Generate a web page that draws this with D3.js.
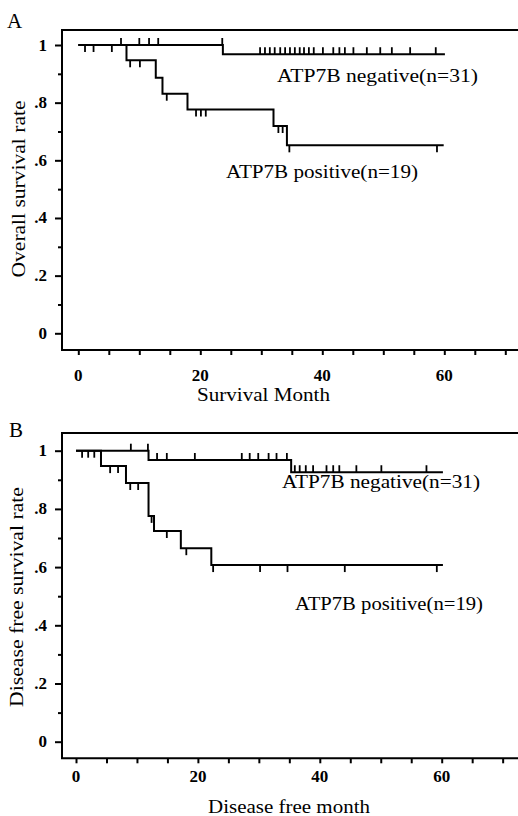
<!DOCTYPE html>
<html><head><meta charset="utf-8">
<script src="https://cdn.jsdelivr.net/npm/d3@7"></script>
<style>body{margin:0;background:#fff}svg{display:block}</style>
</head><body>
<svg id="c" width="518" height="816"></svg>
<script>
// ---------- data ----------
const xTickValues = [0,5,10,15,20,25,30,35,40,45,50,55,60,65,70];
const xTickLabels = [0,20,40,60];
const yTickValues = [0,0.1,0.2,0.3,0.4,0.5,0.6,0.7,0.8,0.9,1];
const yTickLabelValues = [0,0.2,0.4,0.6,0.8,1];
const yTickLabelText = ["0",".2",".4",".6",".8","1"];

// Panel A: overall survival
const aNegEventT = [23.7];
const aNegSurv = [1, 0.968];
const aNegEndT = 60.1;
const aNegCensor = [7.0,10.0,11.6,13.1,23.6,29.8,30.6,31.4,32.2,33.1,33.9,34.7,35.5,36.3,37.0,37.8,38.6,40.1,41.8,42.8,43.7,45.1,47.3,49.5,51.4,54.4,58.6];
const aPosEventT = [7.9,12.7,13.8,17.9,32.0,34.2];
const aPosSurv = [1,0.947,0.886,0.831,0.776,0.719,0.652];
const aPosEndT = 59.9;
const aPosCensor = [1.1,2.5,5.5,8.5,10.1,14.5,19.3,20.1,20.9,32.8,33.5,34.6,58.8];

// Panel B: disease free survival
const bNegEventT = [11.9,35.3];
const bNegSurv = [1,0.968,0.926];
const bNegEndT = 60.2;
const bNegCensor = [9.0,11.8,13.3,14.9,19.5,27.2,28.5,29.9,31.6,32.9,34.6,35.9,36.7,37.7,38.9,41.1,42.2,43.2,46.0,50.1,57.5];
const bPosEventT = [4.1,8.2,11.9,12.8,17.2,22.2];
const bPosSurv = [1,0.947,0.889,0.776,0.724,0.665,0.607];
const bPosEndT = 60.2;
const bPosCensor = [1.0,2.0,3.0,5.6,6.9,8.9,10.2,12.4,14.9,18.1,22.5,30.2,34.7,44.1,59.2];

const panelLetters = ["A","B"];
const yTitles = ["Overall survival rate","Disease free survival rate"];
const xTitles = ["Survival Month","Disease free month"];
const negLabel = "ATP7B negative(n=31)";
const posLabel = "ATP7B positive(n=19)";

// ---------- layout ----------
const svg = d3.select("#c");
const FONT = "'Liberation Serif','Times New Roman',serif";

const panels = [
  {letter:panelLetters[0], yTitle:yTitles[0], xTitle:xTitles[0],
   top:30, bottom:350, left:62, right:518,
   xr:[78.3,444.3], yr:[333.3,45],
   letterPos:[7,28],
   xLabY:381, xTitle_pos:[263.5,401,133],
   yTitle_pos:[25,189,177],
   neg:{ev:aNegEventT, s:aNegSurv, end:aNegEndT, c:aNegCensor, label:[277,82,201]},
   pos:{ev:aPosEventT, s:aPosSurv, end:aPosEndT, c:aPosCensor, label:[226,178,192]}},
  {letter:panelLetters[1], yTitle:yTitles[1], xTitle:xTitles[1],
   top:433, bottom:758.3, left:62, right:518,
   xr:[76,441.7], yr:[741.7,450.7],
   letterPos:[9,437],
   xLabY:782, xTitle_pos:[289,813,162],
   yTitle_pos:[23,597,220],
   neg:{ev:bNegEventT, s:bNegSurv, end:bNegEndT, c:bNegCensor, label:[282,488,198]},
   pos:{ev:bPosEventT, s:bPosSurv, end:bPosEndT, c:bPosCensor, label:[295,610,188]}}
];

function survAt(g, t){
  let v = g.s[0];
  g.ev.forEach((e,i)=>{ if(t>=e) v = g.s[i+1]; });
  return v;
}

panels.forEach(p=>{
  const x = d3.scaleLinear().domain([0,60]).range(p.xr);
  const y = d3.scaleLinear().domain([0,1]).range(p.yr);
  const g = svg.append("g");

  // frame (left, top, bottom)
  g.append("path")
    .attr("d", `M${p.right},${p.top}H${p.left}V${p.bottom}H${p.right}`)
    .attr("fill","none").attr("stroke","#000").attr("stroke-width",2);

  // x axis ticks
  const xa = g.append("g").attr("transform",`translate(0,${p.bottom})`)
    .call(d3.axisBottom(x).tickValues(xTickValues).tickSize(5).tickSizeOuter(0).tickFormat(""));
  xa.select(".domain").remove();
  xa.selectAll("line").attr("stroke","#000").attr("stroke-width",2);
  g.selectAll(".xl").data(xTickLabels).join("text")
    .attr("x",d=>x(d)).attr("y",p.xLabY)
    .attr("text-anchor","middle").attr("font-family",FONT)
    .attr("font-size",17).attr("font-weight","bold").text(d=>d);

  // y axis ticks
  const ya = g.append("g").attr("transform",`translate(${p.left},0)`)
    .call(d3.axisLeft(y).tickValues(yTickValues).tickSizeOuter(0).tickFormat(""));
  ya.select(".domain").remove();
  ya.selectAll("line").attr("stroke","#000").attr("stroke-width",2)
    .attr("x2",d=> (Math.round(d*10)%2===0) ? -7 : -4);
  g.selectAll(".yl").data(yTickLabelValues).join("text")
    .attr("x",p.left-15).attr("y",d=>y(d)+5.5)
    .attr("text-anchor","end").attr("font-family",FONT)
    .attr("font-size",17).attr("font-weight","bold")
    .text((d,i)=>yTickLabelText[i]);

  // titles
  g.append("text").attr("x",p.letterPos[0]).attr("y",p.letterPos[1])
    .attr("font-family",FONT).attr("font-size",21).text(p.letter);
  g.append("text").attr("x",p.xTitle_pos[0]).attr("y",p.xTitle_pos[1])
    .attr("text-anchor","middle").attr("font-family",FONT).attr("font-size",19)
    .attr("textLength",p.xTitle_pos[2]).attr("lengthAdjust","spacingAndGlyphs")
    .text(p.xTitle);
  g.append("text")
    .attr("transform",`translate(${p.yTitle_pos[0]},${p.yTitle_pos[1]}) rotate(-90)`)
    .attr("text-anchor","middle").attr("font-family",FONT).attr("font-size",19)
    .attr("textLength",p.yTitle_pos[2]).attr("lengthAdjust","spacingAndGlyphs")
    .text(p.yTitle);

  // curves
  const line = d3.line().x(d=>x(d[0])).y(d=>y(d[1])).curve(d3.curveStepAfter);
  [["neg",-7],["pos",7]].forEach(([k,dir])=>{
    const grp = p[k];
    const pts = [[0,grp.s[0]]];
    grp.ev.forEach((e,i)=>pts.push([e,grp.s[i+1]]));
    pts.push([grp.end, grp.s[grp.s.length-1]]);
    g.append("path").attr("d",line(pts)).attr("fill","none")
      .attr("stroke","#000").attr("stroke-width",2);
    g.selectAll(".c"+k).data(grp.c).join("line")
      .attr("x1",d=>x(d)).attr("x2",d=>x(d))
      .attr("y1",d=>y(survAt(grp,d))).attr("y2",d=>y(survAt(grp,d))+dir)
      .attr("stroke","#000").attr("stroke-width",1.8);
    g.append("text").attr("x",grp.label[0]).attr("y",grp.label[1])
      .attr("font-family",FONT).attr("font-size",19)
      .attr("textLength",grp.label[2]).attr("lengthAdjust","spacingAndGlyphs")
      .text(k==="neg"?negLabel:posLabel);
  });
});
</script>
</body></html>
